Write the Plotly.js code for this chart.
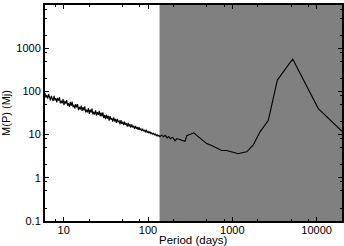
<!DOCTYPE html>
<html><head><meta charset="utf-8">
<script src="https://cdn.plot.ly/plotly-3.0.1.min.js"></script>
<style>html,body{margin:0;padding:0;background:#fff;}#chart{width:344px;height:246px;}</style>
</head><body><div id="chart"></div>
<script>
// Period (days) and minimum mass M(P) (Mj)
const periods = [
  6.00,6.15,6.30,6.46,6.62,6.79,6.96,7.13,7.31,7.49,
  7.68,7.87,8.07,8.27,8.48,8.69,8.91,9.13,9.36,9.59,
  9.83,10.08,10.33,10.59,10.85,11.12,11.40,11.69,11.98,12.28,
  12.59,12.90,13.22,13.55,13.89,14.24,14.60,14.96,15.33,15.72,
  16.11,16.51,16.93,17.35,17.78,18.23,18.68,19.15,19.63,20.12,
  20.62,21.14,21.67,22.21,22.76,23.33,23.92,24.51,25.13,25.76,
  26.40,27.06,27.73,28.43,29.14,29.87,30.61,31.38,32.16,32.97,
  33.79,34.64,35.50,36.39,37.30,38.23,39.19,40.17,41.17,42.20,
  43.25,44.33,45.44,46.58,47.74,48.93,50.16,51.41,52.70,54.01,
  55.36,56.75,58.17,59.62,61.11,62.64,64.20,65.81,67.45,69.14,
  70.87,72.64,74.46,76.32,78.23,80.18,82.19,84.24,86.35,88.50,
  90.72,92.99,95.31,97.69,100.1,102.6,105.2,107.8,110.5,113.3,
  116.1,119.0,122.0,125.1,128.2,131.4,134.7,138.0,
  145,152,160,168,176,185,194,200,209,220,232,245,260,275,288,315,351,378,434,497,569,653,748,858,984,1178,1300,1482,1775,2132,2675,3420,5200,10470,20000];
const masses = [
  91,72,82,68,87,71,62,79,71,60,
  79,62,70,56,71,61,73,53,61,53,
  66,48,60,52,63,47,53,44,57,46,
  58,43,49,40,51,43,51,37,44,38,
  47,35.5,43,36.5,45,32.7,38,32.8,40.8,30.3,
  37.7,32.3,40,29.2,33.9,29.2,36.5,27.6,33.1,28.7,
  35.5,26.6,32.4,26.3,32.6,24.1,28.4,22.8,29,23.5,
  27.1,21.1,26.7,22.2,24.2,19.9,25.1,20.1,23.2,18.8,
  23.2,19.2,21.2,17.3,21.5,17.7,20,16.6,19.9,16.9,
  18.2,15.3,18.6,15.4,17.4,14.6,17.2,14.7,16,13.5,
  15.9,13.6,15.1,12.9,14.9,12.8,13.8,12.1,13.7,12,
  12.8,11.3,13,11.2,11.8,10.7,11.8,10.6,11,10,
  10.9,9.9,10.4,9.4,10,9.2,9.6,9.0,
  9.8,8.9,9.6,8.4,9.0,8.0,8.6,8.3,7.2,8.1,7.8,7.5,7.3,7.0,9.4,10.0,11.0,9.6,7.7,6.2,5.6,4.9,4.3,4.3,4.0,3.6,3.8,4.0,5.8,11.6,21.5,183,563,40,11.9];
const shadeStart = 137;
const shadeEnd = 20000;
const yTickVals = [0.1,1,10,100,1000,10000];
const yTickText = ['0.1','1','10','100','1000','10000'];
const xTickVals = [10,100,1000,10000];
const xTickText = ['10','100','1000','10000'];
const xMinorVals = [8,20,50,80,200,500,800,2000,5000,8000];
const yMinorVals = [0.2,0.5,0.8,2,5,8,20,50,80,200,500,800,2000,5000,8000];
const xTitle = 'Period (days)';
const yTitle = 'M(P) (Mj)';

const fam = '"Liberation Sans", Arial, Helvetica, sans-serif';
const font = {family:fam, size:11, color:'#000'};
const trace = {x:periods, y:masses, type:'scatter', mode:'lines',
  line:{color:'#000', width:1.1}, hoverinfo:'skip', showlegend:false};
const axisCommon = {showline:true, linecolor:'#000', linewidth:2, mirror:'ticks',
  ticks:'inside', ticklen:4, tickcolor:'#000', showgrid:false, zeroline:false,
  tickfont:font, tickmode:'array'};
const layout = {
  width:344, height:246,
  margin:{l:45, r:2, t:5, b:25},
  paper_bgcolor:'#fff', plot_bgcolor:'#fff',
  font:font,
  xaxis:Object.assign({}, axisCommon, {type:'log',
    range:[Math.log10(6), Math.log10(20000)],
    tickvals:xTickVals, ticktext:xTickText, ticklabelstandoff:-2,
    minor:{tickmode:'array', tickvals:xMinorVals, ticks:'inside', ticklen:2, tickcolor:'#000', showgrid:false}}),
  yaxis:Object.assign({}, axisCommon, {type:'log',
    range:[-1, 4],
    tickvals:yTickVals, ticktext:yTickText,
    minor:{tickmode:'array', tickvals:yMinorVals, ticks:'inside', ticklen:2, tickcolor:'#000', showgrid:false},
    title:{text:yTitle, font:font, standoff:4}}),
  annotations:[{text:xTitle, xref:'paper', yref:'paper', x:0.5, y:0, xanchor:'center', yanchor:'middle',
    yshift:-19, showarrow:false, font:{family:fam, size:11.5, color:'#000'}}],
  shapes:[{type:'rect', xref:'x', yref:'paper', x0:shadeStart, x1:shadeEnd, y0:0, y1:1,
    fillcolor:'#808080', line:{width:0}, layer:'below'}]
};
Plotly.newPlot('chart', [trace], layout, {staticPlot:true, displayModeBar:false});
</script>
</body></html>
